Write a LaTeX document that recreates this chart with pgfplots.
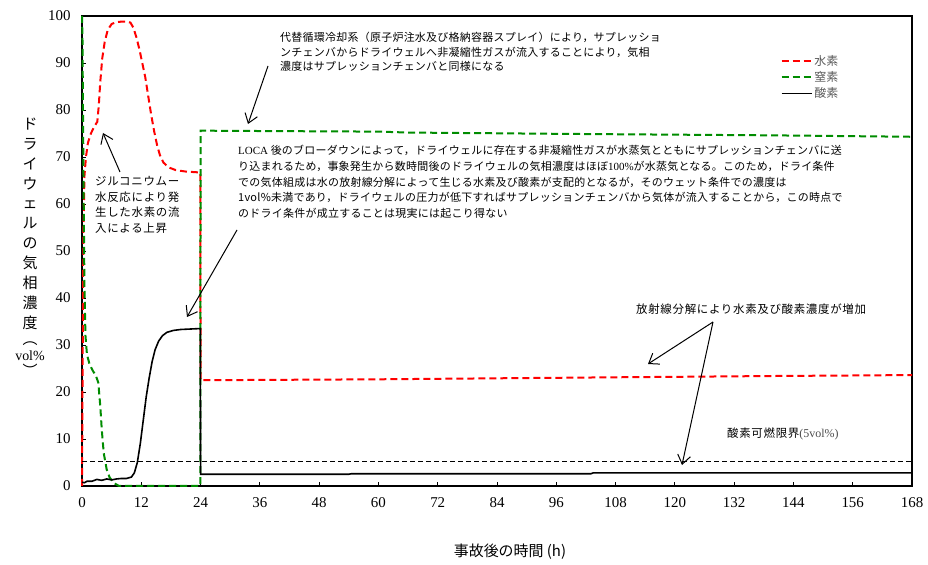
\documentclass[border=0pt]{standalone}
\usepackage{fontspec}
\usepackage{pgfplots}
\pgfplotsset{compat=1.18}
\usetikzlibrary{arrows.meta}
\setmainfont{Noto Sans CJK JP}
\newfontfamily\jp[LetterSpace=6]{Noto Sans CJK JP}
\newfontfamily\jpn[LetterSpace=2.5]{Noto Sans CJK JP}
\newfontfamily\serif{Liberation Serif}
\definecolor{hred}{RGB}{255,0,0}
\definecolor{ngreen}{RGB}{0,140,0}
\begin{document}
\begin{tikzpicture}[x=1bp,y=1bp]
\useasboundingbox (0,0) rectangle (928,565);
\begin{axis}[
  at={(82bp,79bp)}, anchor=south west,
  scale only axis, width=830bp, height=470bp,
  xmin=0, xmax=168, ymin=0, ymax=100,
  xtick={0,12,...,168}, ytick={0,10,...,100},
  xtick pos=bottom, ytick pos=left,
  tick align=inside, major tick length=4bp,
  axis line style={line width=1.2bp},
  tick style={black, line width=0.8bp},
  /pgf/number format/assume math mode=true,
  ticklabel style={font=\serif\fontsize{15}{15}\selectfont},
  xticklabel style={yshift=-8bp},
  yticklabel style={xshift=-8bp},
  clip=false,
  legend cell align=left,
  legend style={draw=none, fill=none, at={(0.838,0.925)}, anchor=north west,
    font=\fontsize{12}{12}\selectfont, text=black!65, row sep=1.5bp,
    nodes={inner sep=1.6bp}},
  legend image code/.code={\draw[#1] (0bp,0bp) -- (30bp,0bp);},
]
% hydrogen
\addplot[hred, line width=2bp, dash pattern=on 7bp off 4bp] coordinates {
(0,0)(0.15,30)(0.3,55)(0.5,66)(0.8,70)(1.2,73)(1.8,75)(2.5,76.5)(3.1,77.5)
(3.4,81)(3.7,86)(4.1,91)(4.6,94.5)(5.2,97)(6,98.3)(7,98.7)(8,98.8)(9,98.8)
(9.8,98.6)(10.4,97.5)(11,95.5)(11.6,93)(12.2,90)(12.8,87)(13.4,83)(14,79)
(14.6,75.5)(15.2,72.5)(15.8,70.3)(16.5,68.8)(17.5,67.8)(19,67.2)(21,66.9)
(23.95,66.7)(24,22.5)(60,22.7)(105,23.1)(140,23.4)(168,23.6)};
\addlegendentry{水素}
% nitrogen
\addplot[ngreen, line width=2bp, dash pattern=on 7bp off 4bp] coordinates {
(0,100)(0.1,95)(0.2,80)(0.35,60)(0.5,42)(0.7,32)(1,28)(1.5,26)(2.2,24.5)
(2.8,23.5)(3.3,22)(3.7,17)(4,12)(4.4,7)(5,3.5)(5.6,1.8)(6.5,0.6)(7.5,0)
(23.95,0)(24,75.6)(40,75.5)(60,75.4)(66,75.2)(100,74.9)(140,74.6)(168,74.3)};
\addlegendentry{窒素}
% oxygen
\addplot[black, line width=1.6bp] coordinates {
(0,0.8)(0.5,0.7)(1,1)(2,1.0)(3,1.4)(4,1.2)(5,1.5)(6,1.3)(7,1.5)(8,1.6)(9,1.6)
(10,1.9)(10.6,2.8)(11.2,5)(11.8,9)(12.4,14)(13,19)(13.6,23)(14.2,26.5)
(14.8,29)(15.5,30.8)(16.3,32)(17.2,32.7)(18.5,33.1)(20,33.3)(23.95,33.5)
(24,2.5)(54,2.5)(54.5,2.6)(103,2.6)(103.5,2.8)(168,2.8)};
\addlegendentry{酸素}
% flammability limit
\addplot[black, line width=1.3bp, dash pattern=on 5bp off 3bp, forget plot] coordinates {(0,5.2)(168,5.2)};
\end{axis}
% annotations (picture coordinates, bp; y = 565 - pixel row)
\tikzset{ann/.style={anchor=north west, inner sep=0pt, align=left}}
\node[ann, font=\jpn\fontsize{11}{14.5}\selectfont] at (280,533)
 {代替循環冷却系（原子炉注水及び格納容器スプレイ）により，サプレッショ\\
  ンチェンバからドライウェルへ非凝縮性ガスが流入することにより，気相\\
  濃度はサプレッションチェンバと同様になる};
\node[ann, font=\jpn\fontsize{11}{15.8}\selectfont] at (238,420)
 {{\serif LOCA} 後のブローダウンによって，ドライウェルに存在する非凝縮性ガスが水蒸気とともにサプレッションチェンバに送\\
  り込まれるため，事象発生から数時間後のドライウェルの気相濃度はほぼ{\serif 100\%}が水蒸気となる。このため，ドライ条件\\
  での気体組成は水の放射線分解によって生じる水素及び酸素が支配的となるが，そのウェット条件での濃度は\\
  1vol\%未満であり，ドライウェルの圧力が低下すればサプレッションチェンバから気体が流入することから，この時点で\\
  のドライ条件が成立することは現実には起こり得ない};
\node[ann, font=\jp\fontsize{11.5}{15.7}\selectfont] at (95,389)
 {ジルコニウムー\\水反応により発\\生した水素の流\\入による上昇};
\node[ann, font=\jp\fontsize{11.5}{14}\selectfont] at (636,261)
 {放射線分解により水素及び酸素濃度が増加};
\node[ann, font=\jp\fontsize{11.5}{14}\selectfont] at (727,137)
 {酸素可燃限界{\serif\fontsize{12}{12}\selectfont\color{black!70}(5vol\%)}};
% arrows
\tikzset{arr/.style={black, line width=1bp, -{Straight Barb[length=9bp,width=13bp]}}}
\draw[arr] (268,499) -- (248,441);
\draw[arr] (120,393) -- (103,432);
\draw[arr] (237,335) -- (187,248);
\draw[arr] (713,243) -- (648,201);
\draw[arr] (713,243) -- (682,100);
% axis labels
\node[font=\fontsize{15}{20}\selectfont, align=center, inner sep=0pt] at (30,318)
 {ド\\ラ\\イ\\ウ\\ェ\\ル\\の\\気\\相\\濃\\度\\[-4bp]︵\\[-4bp]{\serif\fontsize{14}{14}\selectfont vol\%}\\[-4bp]︶};
\node[font=\fontsize{15}{15}\selectfont, inner sep=0pt] at (510,13) {事故後の時間 (h)};
\end{tikzpicture}
\end{document}
